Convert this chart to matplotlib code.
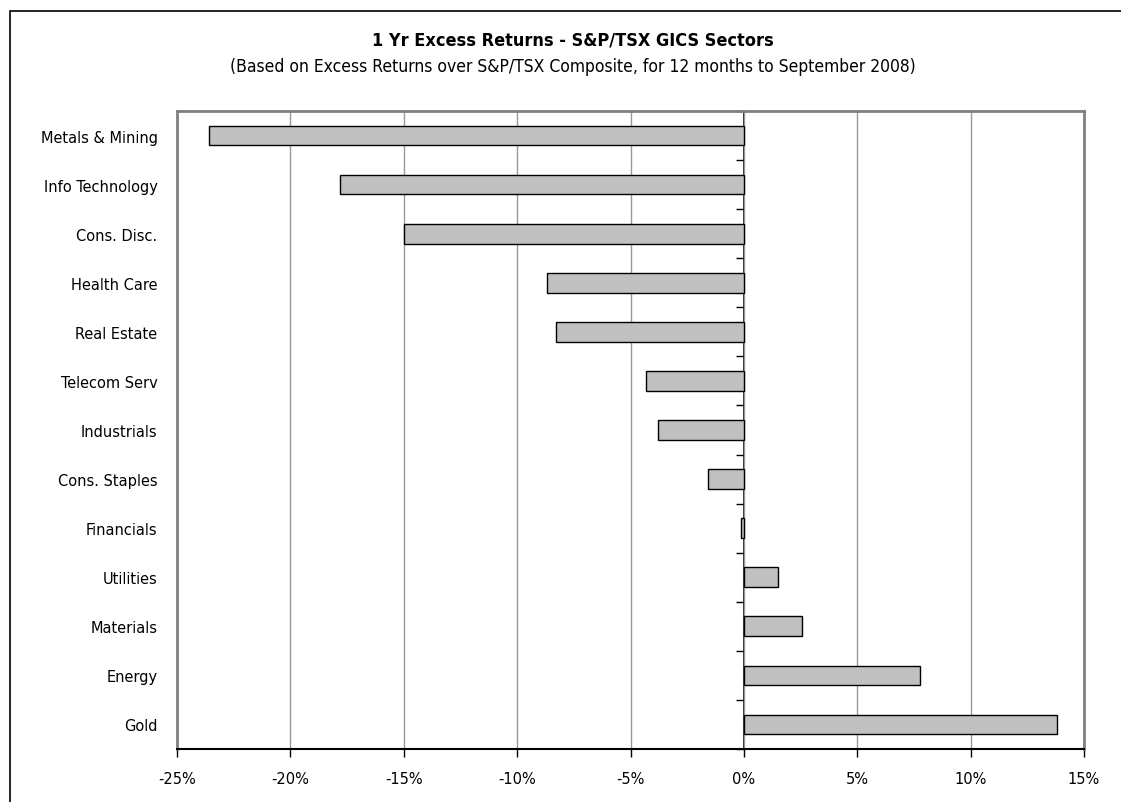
import matplotlib
matplotlib.use("Agg")
import matplotlib.pyplot as plt
import matplotlib.patches as mpatches
from matplotlib import font_manager as fm
from matplotlib.ticker import FuncFormatter
import numpy as np

categories = ["Metals & Mining", "Info Technology", "Cons. Disc.", "Health Care",
              "Real Estate", "Telecom Serv", "Industrials", "Cons. Staples",
              "Financials", "Utilities", "Materials", "Energy", "Gold"]
values = [-23.6, -17.8, -15.0, -8.7, -8.3, -4.3, -3.8, -1.6, -0.13, 1.5, 2.57, 7.76, 13.8]
xticks = [-25, -20, -15, -10, -5, 0, 5, 10, 15]

title = "1 Yr Excess Returns - S&P/TSX GICS Sectors"
subtitle = "(Based on Excess Returns over S&P/TSX Composite, for 12 months to September 2008)"

# look for a narrow / condensed sans font
reg_file = None
bold_file = None
for f in fm.fontManager.ttflist:
    low = (f.fname + " " + f.name).lower()
    if ("narrow" in low or "condensed" in low) and "sans" in low and "mono" not in low and "oblique" not in low and "italic" not in low:
        w = f.weight if isinstance(f.weight, int) else (700 if 'bold' in str(f.weight) else 400)
        if "bold" in low or w >= 600:
            if bold_file is None:
                bold_file = f.fname
        else:
            if reg_file is None:
                reg_file = f.fname

if reg_file:
    reg = fm.FontProperties(fname=reg_file, size=12.5)
    tick_fp = fm.FontProperties(fname=reg_file, size=11.7)
    bold = fm.FontProperties(fname=bold_file, size=13) if bold_file else fm.FontProperties(fname=reg_file, size=13, weight='bold')
else:
    reg = fm.FontProperties(family='Liberation Sans', size=12)
    tick_fp = fm.FontProperties(family='Liberation Sans', size=12)
    bold = fm.FontProperties(family='Liberation Sans', size=12, weight='bold')

plt.rcParams['font.family'] = ['Liberation Sans', 'DejaVu Sans']

fig = plt.figure(figsize=(11.21, 8.03), dpi=100)
ax = fig.add_axes([177/1121, 1-750/803, (1084-177)/1121, (750-112)/803])

y = np.arange(len(categories))
ax.barh(y, values, height=0.4, color='#c0c0c0', edgecolor='black', linewidth=1, zorder=3)

ax.set_xlim(-25, 15)
ax.set_ylim(len(categories)-0.5, -0.5)
ax.set_xticks(xticks)
ax.xaxis.set_major_formatter(FuncFormatter(lambda v, p: f"{v:.0f}%"))
ax.grid(axis='x', color='#999999', linewidth=1, zorder=0)
ax.set_yticks(y)
ax.set_yticklabels(categories)
ax.tick_params(axis='y', length=0, pad=14)
ax.tick_params(axis='x', direction='out', length=6, width=1, pad=10, color='black')
for lab in ax.get_xticklabels() + ax.get_yticklabels():
    lab.set_fontproperties(tick_fp)

for s in ['top', 'left', 'right']:
    ax.spines[s].set_color('#808080')
    ax.spines[s].set_linewidth(2)
ax.spines['bottom'].set_color('black')
ax.spines['bottom'].set_linewidth(1.5)

sec = ax.secondary_yaxis(0, transform=ax.transData)
sec.set_yticks(np.arange(len(categories)+1) - 0.5)
sec.set_yticklabels([])
sec.tick_params(axis='y', direction='out', length=6, width=1, color='black')
sec.spines['left'].set_color('black')
sec.spines['left'].set_linewidth(1.2)

fig.text(0.511, 0.950, title, ha='center', va='center', fontproperties=bold)
fig.text(0.511, 0.9166, subtitle, ha='center', va='center', fontproperties=reg)

left = 10/1121
top = 1 - 12/803
frame = mpatches.Rectangle((left, -0.2), 1.5, top + 0.2, transform=fig.transFigure,
                           fill=False, edgecolor='black', linewidth=1.2, clip_on=False)
fig.patches.append(frame)

fig.savefig("out.png", dpi=100)
